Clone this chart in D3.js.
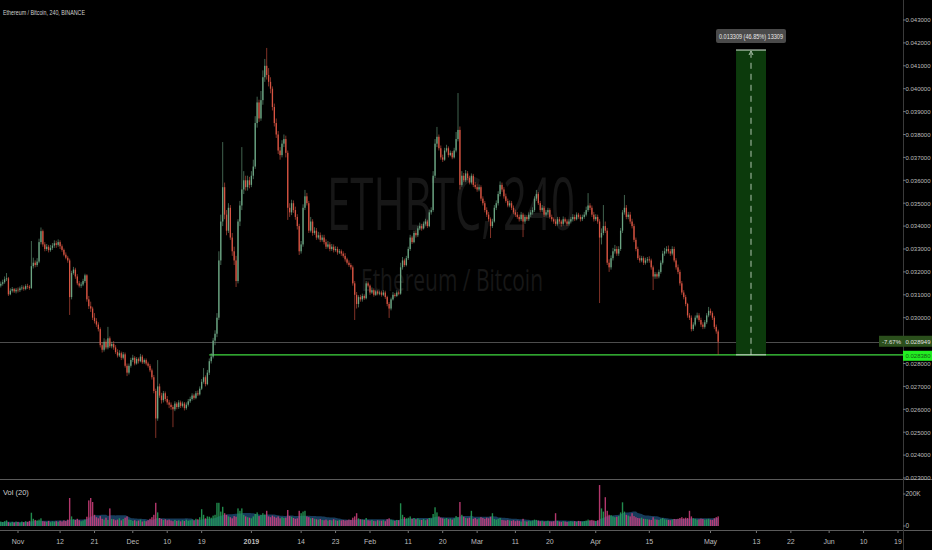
<!DOCTYPE html>
<html><head><meta charset="utf-8">
<script src="https://cdn.jsdelivr.net/npm/d3@7"></script>
<style>
html,body{margin:0;padding:0;background:#000;overflow:hidden}
svg{display:block}
text{font-family:"Liberation Sans Narrow","Arial Narrow","Liberation Sans",sans-serif}
</style></head>
<body><svg id="chart" width="932" height="550"></svg>
<script>
// ---- DATA (12h candles, ETH/BTC Binance) ----
const startTime = Date.UTC(2018, 9, 27, 0);   // first candle
const candleStepHours = 12;
const firstOpen = .03135;
const closes = [
.03140,.03148,.03155,.03168,.03172,.03102,.03118,.03125,.03115,.03122,
.03120,.03128,.03132,.03126,.03138,.03135,.03130,.03225,.03240,.03230,
.03245,.03330,.03378,.03320,.03300,.03310,.03295,.03305,.03315,.03325,
.03318,.03330,.03312,.03296,.03275,.03262,.03250,.03090,.03195,.03210,
.03180,.03150,.03140,.03145,.03160,.03185,.03080,.03050,.03040,.03000,
.02985,.02970,.02950,.02880,.02860,.02895,.02870,.02910,.02875,.02885,
.02870,.02850,.02835,.02845,.02825,.02840,.02790,.02760,.02790,.02815,
.02825,.02800,.02820,.02810,.02830,.02805,.02815,.02800,.02790,.02770,
.02740,.02680,.02560,.02700,.02660,.02640,.02670,.02645,.02630,.02620,
.02610,.02600,.02625,.02610,.02630,.02615,.02625,.02605,.02620,.02635,
.02645,.02660,.02650,.02670,.02665,.02690,.02720,.02740,.02710,.02760,
.02810,.02830,.02900,.02930,.03000,.03250,.03420,.03570,.03450,.03380,
.03480,.03350,.03290,.03250,.03160,.03420,.03490,.03560,.03600,.03570,
.03600,.03580,.03620,.03660,.03850,.03940,.03870,.03950,.04050,.04100,
.04060,.04030,.04000,.03920,.03850,.03800,.03730,.03710,.03760,.03780,
.03720,.03480,.03460,.03500,.03470,.03440,.03400,.03290,.03320,.03480,
.03530,.03500,.03380,.03420,.03370,.03380,.03350,.03360,.03340,.03350,
.03330,.03310,.03320,.03300,.03310,.03295,.03300,.03285,.03290,.03280,
.03270,.03255,.03240,.03230,.03220,.03150,.03100,.03060,.03090,.03080,
.03095,.03085,.03150,.03140,.03110,.03120,.03100,.03115,.03105,.03110,
.03100,.03110,.03090,.03060,.03040,.03080,.03100,.03095,.03110,.03105,
.03220,.03250,.03230,.03260,.03300,.03350,.03330,.03370,.03360,.03390,
.03400,.03390,.03410,.03420,.03400,.03460,.03470,.03620,.03760,.03790,
.03740,.03700,.03690,.03730,.03740,.03710,.03720,.03700,.03730,.03780,
.03820,.03580,.03620,.03600,.03630,.03610,.03590,.03620,.03580,.03570,
.03560,.03570,.03520,.03500,.03470,.03450,.03430,.03400,.03420,.03480,
.03500,.03540,.03580,.03560,.03530,.03510,.03490,.03500,.03480,.03460,
.03450,.03440,.03430,.03450,.03420,.03440,.03430,.03450,.03460,.03470,
.03520,.03540,.03500,.03470,.03480,.03450,.03460,.03470,.03440,.03430,
.03420,.03410,.03430,.03420,.03410,.03430,.03420,.03410,.03420,.03430,
.03440,.03430,.03450,.03440,.03430,.03440,.03450,.03470,.03490,.03480,
.03450,.03430,.03440,.03420,.03350,.03370,.03400,.03380,.03240,.03220,
.03260,.03290,.03300,.03280,.03300,.03380,.03460,.03480,.03440,.03450,
.03420,.03400,.03340,.03300,.03260,.03250,.03260,.03240,.03250,.03255,
.03250,.03220,.03180,.03190,.03180,.03200,.03240,.03280,.03290,.03300,
.03290,.03280,.03300,.03250,.03220,.03200,.03150,.03110,.03090,.03060,
.03010,.03000,.02950,.02970,.03000,.03010,.02990,.02970,.02960,.02980,
.03010,.03030,.03020,.03000,.02960,.02940,.028949];
const highs = [
.03152,.03158,.03166,.03180,.03195,.03178,.03128,.03134,.03130,.03130,
.03132,.03136,.03142,.03140,.03146,.03148,.03142,.03335,.03262,.03250,
.03260,.03345,.03394,.03385,.03330,.03322,.03318,.03318,.03326,.03338,
.03336,.03342,.03338,.03320,.03302,.03285,.03270,.03258,.03205,.03222,
.03218,.03190,.03160,.03155,.03170,.03192,.03190,.03095,.03070,.03048,
.03020,.02998,.02980,.02958,.02892,.02910,.02905,.02960,.02918,.02895,
.02898,.02880,.02862,.02858,.02852,.02850,.02848,.02800,.02800,.02825,
.02838,.02832,.02828,.02826,.02842,.02838,.02822,.02822,.02808,.02798,
.02778,.02750,.02690,.02815,.02712,.02672,.02680,.02678,.02658,.02640,
.02630,.02618,.02635,.02632,.02640,.02638,.02634,.02632,.02630,.02645,
.02655,.02670,.02668,.02680,.02682,.02700,.02732,.02780,.02748,.02772,
.02822,.02845,.02912,.02945,.03020,.03290,.03450,.03767,.03590,.03470,
.03500,.03492,.03370,.03310,.03270,.03430,.03510,.03745,.03640,.03620,
.03620,.03615,.03640,.03690,.03880,.03965,.03952,.03990,.04080,.04130,
.04178,.04090,.04050,.04010,.03935,.03870,.03815,.03745,.03775,.03800,
.03795,.03730,.03500,.03515,.03512,.03485,.03452,.03410,.03335,.03495,
.03558,.03545,.03510,.03440,.03430,.03395,.03392,.03375,.03372,.03362,
.03362,.03342,.03335,.03330,.03322,.03320,.03312,.03310,.03300,.03298,
.03290,.03282,.03262,.03250,.03238,.03228,.03160,.03112,.03098,.03100,
.03105,.03102,.03160,.03158,.03145,.03132,.03128,.03122,.03120,.03118,
.03118,.03120,.03118,.03096,.03068,.03088,.03112,.03108,.03120,.03118,
.03240,.03265,.03258,.03270,.03310,.03362,.03358,.03380,.03382,.03400,
.03415,.03410,.03420,.03432,.03428,.03472,.03482,.03640,.03780,.03833,
.03800,.03752,.03712,.03742,.03755,.03748,.03730,.03728,.03742,.03811,
.03981,.03835,.03640,.03632,.03645,.03640,.03620,.03630,.03628,.03592,
.03585,.03582,.03578,.03530,.03510,.03482,.03462,.03438,.03432,.03492,
.03512,.03552,.03595,.03590,.03570,.03542,.03520,.03512,.03510,.03490,
.03472,.03462,.03450,.03462,.03458,.03450,.03448,.03460,.03470,.03482,
.03530,.03558,.03548,.03510,.03492,.03488,.03470,.03480,.03478,.03450,
.03438,.03430,.03440,.03440,.03428,.03442,.03438,.03430,.03430,.03440,
.03452,.03450,.03460,.03458,.03450,.03450,.03462,.03485,.03544,.03500,
.03490,.03462,.03452,.03450,.03430,.03390,.03492,.03420,.03392,.03255,
.03272,.03305,.03318,.03312,.03312,.03392,.03470,.03536,.03492,.03462,
.03462,.03432,.03410,.03350,.03310,.03272,.03270,.03268,.03262,.03265,
.03268,.03258,.03228,.03200,.03198,.03210,.03250,.03292,.03305,.03312,
.03315,.03300,.03312,.03310,.03260,.03232,.03210,.03160,.03120,.03100,
.03065,.03020,.03010,.02980,.03010,.03022,.03020,.03000,.02980,.02990,
.03020,.03047,.03040,.03028,.03008,.02970,.02948];
const lows = [
.03128,.03132,.03140,.03148,.03160,.03095,.03098,.03110,.03108,.03106,
.03110,.03112,.03120,.03118,.03120,.03126,.03122,.03125,.03215,.03220,
.03222,.03238,.03320,.03310,.03290,.03292,.03285,.03288,.03296,.03305,
.03305,.03310,.03300,.03288,.03268,.03255,.03240,.03012,.03080,.03188,
.03170,.03142,.03132,.03130,.03138,.03152,.03070,.03038,.03025,.02990,
.02975,.02960,.02940,.02870,.02848,.02852,.02862,.02862,.02868,.02866,
.02860,.02842,.02826,.02828,.02815,.02818,.02782,.02745,.02752,.02782,
.02806,.02792,.02795,.02800,.02805,.02798,.02798,.02792,.02782,.02762,
.02730,.02670,.02475,.02550,.02650,.02625,.02630,.02635,.02620,.02605,
.02598,.02522,.02592,.02600,.02602,.02606,.02608,.02595,.02598,.02612,
.02628,.02638,.02642,.02644,.02658,.02660,.02684,.02712,.02700,.02705,
.02750,.02800,.02822,.02880,.02915,.02990,.03230,.03400,.03430,.03360,
.03370,.03340,.03270,.03230,.03134,.03150,.03400,.03470,.03540,.03555,
.03555,.03565,.03570,.03605,.03650,.03830,.03855,.03860,.03930,.04030,
.04040,.04010,.03980,.03905,.03835,.03785,.03715,.03690,.03700,.03745,
.03700,.03427,.03440,.03448,.03458,.03428,.03385,.03274,.03280,.03310,
.03470,.03490,.03370,.03372,.03358,.03362,.03340,.03342,.03330,.03332,
.03320,.03300,.03302,.03290,.03292,.03285,.03288,.03275,.03278,.03270,
.03262,.03245,.03232,.03222,.03210,.03140,.02990,.03040,.03045,.03070,
.03070,.03078,.03080,.03132,.03100,.03104,.03092,.03095,.03098,.03098,
.03092,.03094,.03082,.03050,.02999,.03032,.03075,.03088,.03090,.03098,
.03100,.03210,.03222,.03224,.03252,.03292,.03322,.03325,.03350,.03352,
.03382,.03380,.03385,.03402,.03392,.03395,.03450,.03462,.03610,.03745,
.03730,.03690,.03680,.03685,.03722,.03700,.03705,.03692,.03695,.03722,
.03770,.03560,.03572,.03592,.03592,.03600,.03582,.03582,.03570,.03562,
.03550,.03552,.03510,.03490,.03460,.03440,.03420,.03348,.03392,.03415,
.03470,.03490,.03530,.03550,.03520,.03502,.03482,.03482,.03470,.03452,
.03440,.03432,.03420,.03422,.03352,.03410,.03422,.03422,.03440,.03450,
.03462,.03510,.03492,.03460,.03462,.03440,.03442,.03450,.03432,.03420,
.03410,.03400,.03402,.03410,.03398,.03402,.03412,.03400,.03402,.03412,
.03420,.03422,.03425,.03432,.03420,.03422,.03432,.03442,.03462,.03470,
.03440,.03420,.03422,.03410,.03064,.03320,.03360,.03370,.03230,.03200,
.03210,.03250,.03280,.03270,.03270,.03292,.03370,.03450,.03430,.03430,
.03410,.03390,.03330,.03290,.03252,.03240,.03242,.03230,.03232,.03240,
.03240,.03210,.03121,.03170,.03170,.03172,.03192,.03232,.03270,.03280,
.03280,.03270,.03272,.03242,.03210,.03190,.03140,.03100,.03080,.03050,
.03000,.02990,.02940,.02942,.02962,.02992,.02982,.02960,.02950,.02952,
.02972,.03002,.03010,.02990,.02950,.02930,.02838];
const volumesK = [
22,28,25,30,35,24,20,26,22,27,
25,21,28,24,30,26,32,83,45,38,
35,40,48,30,28,26,32,24,29,27,
30,26,33,28,35,31,40,175,60,42,
38,45,36,30,34,40,58,160,175,150,
70,55,48,62,45,40,52,38,110,44,
42,36,40,48,35,44,52,60,40,38,
32,36,30,34,40,28,33,30,36,45,
55,70,145,85,50,44,38,42,36,40,
34,30,38,32,35,29,36,31,40,33,
36,40,35,45,42,55,105,70,48,60,
58,52,65,70,145,145,90,120,80,70,
60,55,48,62,58,110,95,110,70,60,
55,52,48,60,75,85,62,70,80,72,
95,60,55,65,58,52,60,48,55,50,
52,100,62,58,50,45,48,95,80,90,
95,60,55,48,50,45,42,40,44,38,
36,40,34,38,35,42,36,33,37,35,
38,34,36,40,38,52,60,80,48,42,
40,38,50,36,34,38,32,30,36,34,
33,36,30,42,48,40,35,32,38,36,
142,70,55,48,52,60,45,50,42,48,
40,38,44,36,42,50,48,75,117,85,
60,52,48,45,50,42,46,40,48,62,
55,150,70,58,50,48,52,95,45,50,
42,48,55,50,45,52,48,58,80,44,
40,45,50,38,36,34,38,35,32,36,
30,34,32,28,45,30,28,32,30,34,
40,38,34,30,32,28,30,33,29,28,
30,80,32,28,26,30,28,25,27,30,
28,30,26,32,29,27,30,34,40,36,
38,35,32,36,256,110,90,180,95,70,
68,60,55,58,62,85,148,90,70,65,
60,80,62,55,50,48,52,45,44,42,
40,38,55,42,40,38,45,50,42,40,
38,36,40,44,42,45,50,55,48,52,
50,95,60,48,45,40,42,46,44,40,
42,45,40,38,48,55,60];

const priceTicks = [0.023,0.024,0.025,0.026,0.027,0.028,0.029,0.030,0.031,0.032,0.033,0.034,0.035,0.036,0.037,0.038,0.039,0.040,0.041,0.042,0.043];
const timeTicks = [
  [Date.UTC(2018,10,1),"Nov"],[Date.UTC(2018,10,12),"12"],[Date.UTC(2018,10,21),"21"],
  [Date.UTC(2018,11,1),"Dec"],[Date.UTC(2018,11,10),"10"],[Date.UTC(2018,11,19),"19"],
  [Date.UTC(2019,0,1),"2019"],[Date.UTC(2019,0,14),"14"],[Date.UTC(2019,0,23),"23"],
  [Date.UTC(2019,1,1),"Feb"],[Date.UTC(2019,1,11),"11"],[Date.UTC(2019,1,20),"20"],
  [Date.UTC(2019,2,1),"Mar"],[Date.UTC(2019,2,11),"11"],[Date.UTC(2019,2,20),"20"],
  [Date.UTC(2019,3,1),"Apr"],[Date.UTC(2019,3,15),"15"],[Date.UTC(2019,4,1),"May"],
  [Date.UTC(2019,4,13),"13"],[Date.UTC(2019,4,22),"22"],[Date.UTC(2019,5,1),"Jun"],
  [Date.UTC(2019,5,10),"10"],[Date.UTC(2019,5,19),"19"]];
const volTicks = [[0,"0"],[200,"200K"]];

const supportLevel = 0.02838;
const supportStart = Date.UTC(2018,11,21,0);
const lastPrice = 0.028949;
const lastChange = "-7.67%";
const measureStart = Date.UTC(2019,4,7,16);
const measureEnd = Date.UTC(2019,4,15,12);
const measureFrom = 0.02838;
const measureTo = 0.041689;
const measureLabel = "0.013309 (46.85%) 13309";
const title = "Ethereum / Bitcoin, 240, BINANCE";

// ---- BUILD ----
const W = 932, H = 550, axisX = 903;
const svg = d3.select("#chart");
svg.append("rect").attr("width",W).attr("height",H).attr("fill","#000");

const x = d3.scaleUtc().domain([Date.UTC(2018,10,1), Date.UTC(2019,5,19)]).range([18, 898]);
const y = d3.scaleLinear().domain([0.023, 0.043]).range([478, 20]);
const yv = d3.scaleLinear().domain([0, 200]).range([526, 494]);

const candles = closes.map((c,i)=>{
  const o = i===0 ? firstOpen : closes[i-1];
  return {t: startTime + i*candleStepHours*3600e3, o, c, h: Math.max(highs[i],o,c), l: Math.min(lows[i],o,c), v: volumesK[i]};
});

const defs = svg.append("defs");
defs.append("clipPath").attr("id","mainClip").append("rect").attr("x",0).attr("y",0).attr("width",axisX).attr("height",478);
defs.append("clipPath").attr("id","volClip").append("rect").attr("x",0).attr("y",480).attr("width",axisX).attr("height",50);

// watermark
svg.append("text").attr("x",451).attr("y",230).attr("text-anchor","middle")
  .attr("font-size",74).attr("fill","#171717").attr("textLength",248).attr("lengthAdjust","spacingAndGlyphs")
  .style("font-family","'Open Sans',sans-serif").text("ETHBTC, 240");
svg.append("text").attr("x",452).attr("y",291).attr("text-anchor","middle")
  .attr("font-size",31).attr("fill","#171717").attr("textLength",182).attr("lengthAdjust","spacingAndGlyphs")
  .style("font-family","'Open Sans',sans-serif").text("Ethereum / Bitcoin");

const main = svg.append("g").attr("clip-path","url(#mainClip)");

// last price line
main.append("line").attr("x1",0).attr("x2",axisX).attr("y1",Math.round(y(lastPrice))+0.5).attr("y2",Math.round(y(lastPrice))+0.5)
  .attr("stroke","#4d4d4d").attr("stroke-width",1);

// support line
main.append("line").attr("x1",x(supportStart)).attr("x2",axisX).attr("y1",y(supportLevel)).attr("y2",y(supportLevel))
  .attr("stroke","#3fd93f").attr("stroke-width",1.2);

// candles
const upCol = "#6ba583", dnCol = "#d75442";
const cg = main.append("g");
cg.selectAll("line").data(candles).join("line")
  .attr("x1",d=>x(d.t)).attr("x2",d=>x(d.t)).attr("y1",d=>y(d.h)).attr("y2",d=>y(d.l))
  .attr("stroke",d=>d.c>=d.o?upCol:dnCol).attr("stroke-width",0.6);
cg.selectAll("rect").data(candles).join("rect")
  .attr("x",d=>x(d.t)-0.65).attr("width",1.3)
  .attr("y",d=>y(Math.max(d.o,d.c))).attr("height",d=>Math.max(0.6, Math.abs(y(d.o)-y(d.c))))
  .attr("fill",d=>d.c>=d.o?upCol:dnCol);

// measure box
const mx0 = x(measureStart), mx1 = x(measureEnd), my0 = y(measureTo), my1 = y(measureFrom);
main.append("rect").attr("x",mx0).attr("y",my0).attr("width",mx1-mx0).attr("height",my1-my0).attr("fill","#0c3a0c");
main.append("line").attr("x1",mx0).attr("x2",mx1).attr("y1",my0).attr("y2",my0).attr("stroke","#d8e8d8").attr("stroke-width",1);
main.append("line").attr("x1",mx0).attr("x2",mx1).attr("y1",my1).attr("y2",my1).attr("stroke","#d8e8d8").attr("stroke-width",1);
const mcx = (mx0+mx1)/2;
main.append("line").attr("x1",mcx).attr("x2",mcx).attr("y1",my1).attr("y2",my0+3)
  .attr("stroke","#d8e8d8").attr("stroke-width",0.8).attr("stroke-dasharray","6,5");
main.append("path").attr("d",`M${mcx-2},${my0+5}L${mcx},${my0+1}L${mcx+2},${my0+5}`).attr("fill","none").attr("stroke","#d8e8d8").attr("stroke-width",0.8);
// label above
const lw = 70;
main.append("rect").attr("x",mcx-lw/2).attr("y",my0-21).attr("width",lw).attr("height",14).attr("rx",2).attr("fill","#4a4a4a");
main.append("text").attr("x",mcx).attr("y",my0-11.5).attr("text-anchor","middle").attr("font-size",6.8).attr("fill","#e8e8e8")
  .attr("textLength",64).attr("lengthAdjust","spacingAndGlyphs").text(measureLabel);

// pane separators
svg.append("line").attr("x1",0).attr("x2",W).attr("y1",479.5).attr("y2",479.5).attr("stroke","#5a5a5a").attr("stroke-width",1);
svg.append("line").attr("x1",0).attr("x2",W).attr("y1",530.5).attr("y2",530.5).attr("stroke","#5a5a5a").attr("stroke-width",1);
// price axis line
svg.append("line").attr("x1",axisX+0.5).attr("x2",axisX+0.5).attr("y1",0).attr("y2",550).attr("stroke","#3a3a3a").attr("stroke-width",1);

// price axis
const fmt = d3.format(".6f");
const pa = svg.append("g");
pa.selectAll("line").data(priceTicks).join("line")
  .attr("x1",axisX).attr("x2",axisX+2.5).attr("y1",d=>y(d)).attr("y2",d=>y(d)).attr("stroke","#777");
pa.selectAll("text").data(priceTicks).join("text")
  .attr("x",905.5).attr("y",d=>y(d)+2.3).attr("font-size",6).attr("fill","#bdbdbd").text(d=>fmt(d));

// last price label
const lpY = y(lastPrice);
svg.append("rect").attr("x",879).attr("y",lpY-6).attr("width",53).attr("height",11).attr("fill","#2b4f1c");
svg.append("text").attr("x",901).attr("y",lpY+2.3).attr("text-anchor","end").attr("font-size",6).attr("fill","#e0e0e0").text(lastChange);
svg.append("text").attr("x",905.5).attr("y",lpY+2.3).attr("font-size",6).attr("fill","#e0e0e0").text(fmt(lastPrice));
// support label
const sY = y(supportLevel);
svg.append("rect").attr("x",903).attr("y",sY-4).attr("width",29).attr("height",10).attr("fill","#22ee22");
svg.append("text").attr("x",905.5).attr("y",sY+3.3).attr("font-size",6).attr("fill","#126012").text(fmt(supportLevel));

// volume pane
const vg = svg.append("g").attr("clip-path","url(#volClip)");
const ma = candles.map((d,i)=>{
  const s = candles.slice(Math.max(0,i-19), i+1);
  return {t:d.t, v:d3.mean(s, e=>e.v)};
});
vg.append("path").datum(ma)
  .attr("d", d3.area().x(d=>x(d.t)).y0(yv(0)).y1(d=>yv(d.v)).curve(d3.curveMonotoneX))
  .attr("fill","#1d4f78").attr("fill-opacity",0.75);
vg.selectAll("rect").data(candles).join("rect")
  .attr("x",d=>x(d.t)-0.7).attr("width",1.4)
  .attr("y",d=>yv(d.v)).attr("height",d=>yv(0)-yv(d.v))
  .attr("fill",d=>d.c>=d.o?"#27a35a":"#d2417f").attr("fill-opacity",0.85);

svg.append("text").attr("x",3).attr("y",495).attr("font-size",7.5).attr("fill","#cfcfcf").text("Vol (20)");
const va = svg.append("g");
va.selectAll("line").data(volTicks).join("line")
  .attr("x1",axisX).attr("x2",axisX+2.5).attr("y1",d=>yv(d[0])).attr("y2",d=>yv(d[0])).attr("stroke","#777");
va.selectAll("text").data(volTicks).join("text")
  .attr("x",905.5).attr("y",d=>yv(d[0])+2.3).attr("font-size",6.5).attr("fill","#bdbdbd").text(d=>d[1]);

// time axis
const ta = svg.append("g");
ta.selectAll("text").data(timeTicks).join("text")
  .attr("x",d=>x(d[0])).attr("y",544).attr("text-anchor","middle").attr("font-size",7)
  .attr("font-weight",d=>d[1]==="2019"?"bold":"normal")
  .attr("fill","#bdbdbd").text(d=>d[1]);
ta.selectAll("line").data(timeTicks).join("line")
  .attr("x1",d=>x(d[0])).attr("x2",d=>x(d[0])).attr("y1",531).attr("y2",533).attr("stroke","#777");

// title
svg.append("text").attr("x",3).attr("y",15).attr("font-size",7).attr("fill","#d0d0d0")
  .attr("textLength",82).attr("lengthAdjust","spacingAndGlyphs").text(title);
</script>
</body></html>
